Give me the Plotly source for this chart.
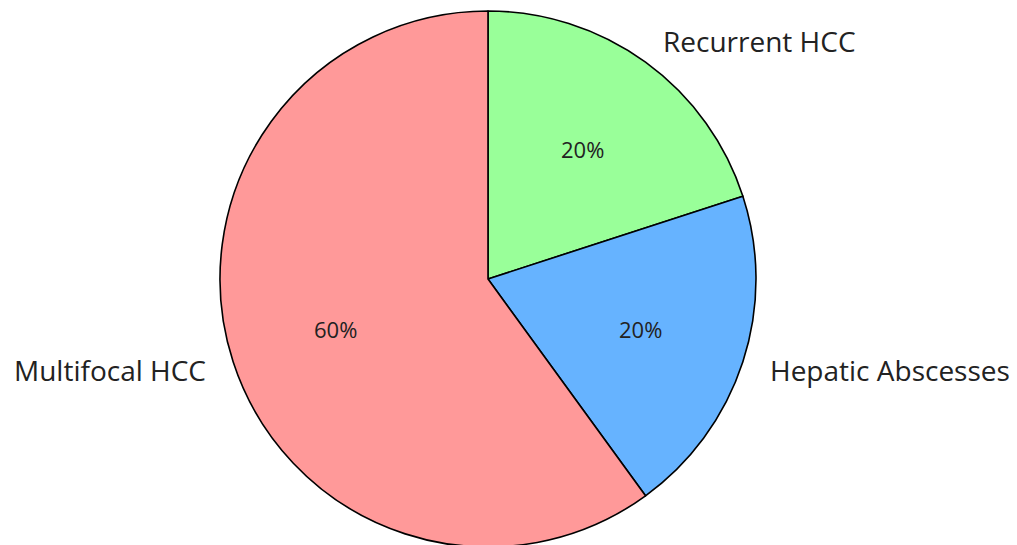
import math
import plotly.graph_objects as go

labels = ["Recurrent HCC", "Hepatic Abscesses", "Multifocal HCC"]
values = [20, 20, 60]
colors = ["#99ff99", "#66b3ff", "#ff9999"]

W, H = 1017, 545
# page offset compensation (body margin)
cx_px, cy_px, r_px = 480, 271, 268

fig = go.Figure(go.Pie(
    labels=labels, values=values, sort=False, direction="clockwise", rotation=0,
    marker=dict(colors=colors, line=dict(color="black", width=1.6)),
    textinfo="none", hoverinfo="label+percent", showlegend=False,
    domain=dict(x=[(cx_px - r_px) / W, (cx_px + r_px) / W],
                y=[max(0, (H - cy_px - r_px) / H), (H - cy_px + r_px) / H]),
))

total = sum(values)
cum = 0
font_family = "Open Sans, Lato, sans-serif"
for lab, v in zip(labels, values):
    mid = (cum + v / 2) / total * 360
    cum += v
    ang = math.radians(90 - mid)
    lx = cx_px + 1.1 * r_px * math.cos(ang)
    ly = cy_px - 1.1 * r_px * math.sin(ang)
    fig.add_annotation(x=lx / W, y=1 - ly / H, xref="paper", yref="paper",
                       text=lab, showarrow=False,
                       xanchor="left" if math.cos(ang) > 0 else "right",
                       yanchor="middle",
                       font=dict(family=font_family, size=28, color="#222222"))
    px = cx_px + 0.6 * r_px * math.cos(ang)
    py = cy_px - 0.6 * r_px * math.sin(ang)
    fig.add_annotation(x=px / W, y=1 - py / H, xref="paper", yref="paper",
                       text=f"{v / total * 100:.0f}%", showarrow=False,
                       xanchor="center", yanchor="middle",
                       font=dict(family=font_family, size=22, color="#222222"))

fig.update_layout(width=W, height=H, margin=dict(l=0, r=0, t=0, b=0),
                  paper_bgcolor="white", plot_bgcolor="white")
fig.write_html("out.html")
